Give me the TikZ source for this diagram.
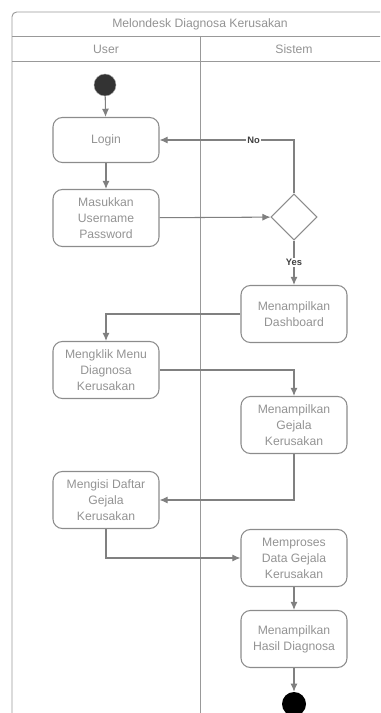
\documentclass[tikz,border=0pt]{standalone}
\usepackage{fontspec}
\setmainfont{Liberation Sans}
\usetikzlibrary{shapes.geometric, arrows.meta}

\begin{document}
\begin{tikzpicture}[x=0.03cm, y=-0.03cm, >={Latex[length=7pt,width=6pt]},
   every node/.style={font=\fontsize{10.4}{13.6}\selectfont, text=gray!85},
   act/.style={draw=gray!90, line width=0.9pt, rounded corners=8pt, align=center,
      minimum width=3.18cm, minimum height=1.71cm, inner sep=1pt},
   lane/.style={draw=gray!80, line width=0.8pt},
   flow/.style={draw=gray, line width=0.9pt, ->},
   lbl/.style={fill=white, inner sep=1pt, font=\bfseries\fontsize{8}{9}\selectfont, text=black!75}]
      \useasboundingbox (0,0) rectangle (380,713);
      \clip (0,0) rectangle (380,713);
         % swimlanes
         \draw[lane, rounded corners=4pt] (12,740) -- (12,12) -- (388,12) -- (388,740);
         \draw[lane] (12,36) -- (388,36);
         \draw[lane] (12,61) -- (388,61);
         \draw[lane] (200,36) -- (200,740);
         \node (T) at (200,24) {Melondesk Diagnosa Kerusakan};
         \node (U) at (106,49) {User};
         \node (S) at (294,49) {Sistem};
         % activities
         \node[circle, fill=black!80, draw=gray!70, minimum size=0.66cm, inner sep=0] (A) at (105,85) {};
         \node[act, minimum height=1.35cm] (B) at (106,140) {Login};
         \node[act] (C) at (106,218) {Masukkan\\Username\\Password};
         \node[diamond, draw=gray!90, line width=0.9pt, minimum width=1.38cm, minimum height=1.38cm, inner sep=0] (D) at (294,217) {};
         \node[act] (E) at (294,314) {Menampilkan\\Dashboard};
         \node[act] (F) at (106,370) {Mengklik Menu\\Diagnosa\\Kerusakan};
         \node[act] (G) at (294,425) {Menampilkan\\Gejala\\Kerusakan};
         \node[act] (H) at (106,500) {Mengisi Daftar\\Gejala\\Kerusakan};
         \node[act] (I) at (294,558) {Memproses\\Data Gejala\\Kerusakan};
         \node[act] (J) at (294,639) {Menampilkan\\Hasil Diagnosa};
         \node[circle, fill=black, minimum size=0.72cm, inner sep=0] (K) at (294,704) {};
         % transitions
         \draw[flow] (A) -- (B);
         \draw[flow] (B) -- (C);
         \draw[flow] (C) -- (D);
         \draw[flow] (D.north) |- (B.east) node[lbl, pos=0.65] {No};
         \draw[flow] (D) -- (E) node[lbl, midway] {Yes};
         \draw[flow] (E.west) -| (F.north);
         \draw[flow] (F.east) -| (G.north);
         \draw[flow] (G.south) |- (H.east);
         \draw[flow] (H.south) |- (I.west);
         \draw[flow] (I) -- (J);
         \draw[flow] (J) -- (K);
      \end{tikzpicture}
\end{document}
